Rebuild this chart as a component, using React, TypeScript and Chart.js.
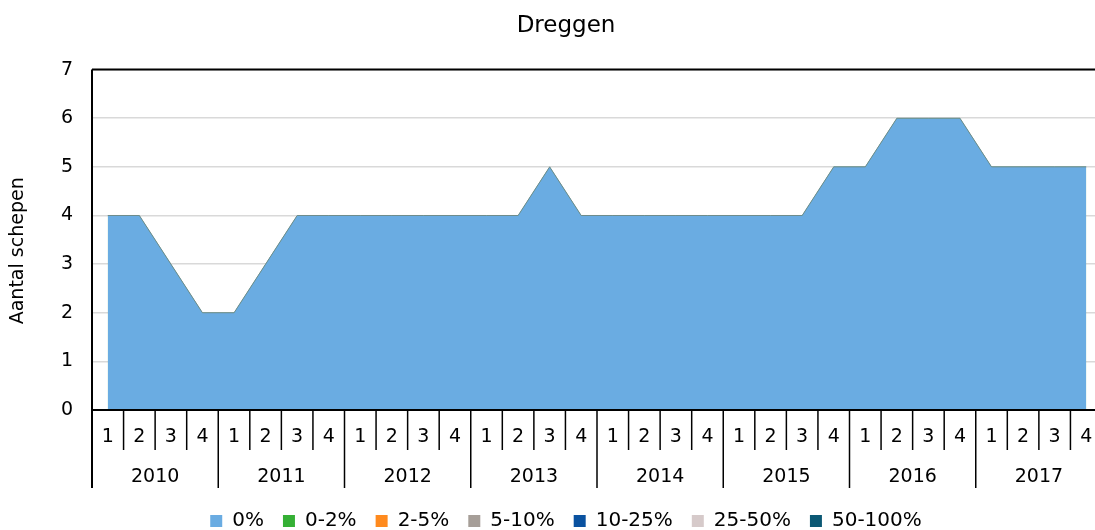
import React, { useEffect, useRef } from "react";
import { Chart, registerables } from "chart.js";

Chart.register(...registerables);

const quarterLabels = [
  "1", "2", "3", "4", "1", "2", "3", "4", "1", "2", "3", "4", "1", "2", "3", "4",
  "1", "2", "3", "4", "1", "2", "3", "4", "1", "2", "3", "4", "1", "2", "3", "4",
];
const yearLabels = ["2010", "2011", "2012", "2013", "2014", "2015", "2016", "2017"];
const yAxisTitle = "Aantal schepen";

const seriesNames = ["0%", "0-2%", "2-5%", "5-10%", "10-25%", "25-50%", "50-100%"];
const seriesColors = ["#6aace2", "#35b035", "#ff8a1e", "#a69e98", "#0a52a0", "#d6caca", "#0b5874"];

const values0 = [4, 4, 3, 2, 2, 3, 4, 4, 4, 4, 4, 4, 4, 4, 5, 4, 4, 4, 4, 4, 4, 4, 4, 5, 5, 6, 6, 6, 5, 5, 5, 5];
const valuesEmpty = [0, 0, 0, 0, 0, 0, 0, 0, 0, 0, 0, 0, 0, 0, 0, 0, 0, 0, 0, 0, 0, 0, 0, 0, 0, 0, 0, 0, 0, 0, 0, 0];
const seriesValues = [values0, valuesEmpty, valuesEmpty, valuesEmpty, valuesEmpty, valuesEmpty, valuesEmpty];

const FONT = "'DejaVu Sans', Verdana, sans-serif";

const excelAxes = {
  id: "excelAxes",
  afterDraw(chart: any) {
    const { ctx, chartArea: a } = chart;
    const x = chart.scales.x;
    const n = quarterLabels.length;
    const half = (x.getPixelForValue(1) - x.getPixelForValue(0)) / 2;
    const line = (x1: number, y1: number, x2: number, y2: number, w: number) => {
      ctx.beginPath();
      ctx.lineWidth = w;
      ctx.moveTo(x1, y1);
      ctx.lineTo(x2, y2);
      ctx.stroke();
    };
    ctx.save();
    ctx.strokeStyle = "#000";
    line(a.left, a.top, a.right, a.top, 2);
    line(a.left, a.bottom, a.right, a.bottom, 2);
    line(a.left, a.top, a.left, a.bottom + 78, 2);
    for (let k = 1; k <= n; k++) {
      const bx = x.getPixelForValue(k - 1) + half;
      const len = k % 4 === 0 ? 78 : 40;
      line(bx, a.bottom, bx, a.bottom + len, 1.5);
    }
    ctx.fillStyle = "#000";
    ctx.font = `19px ${FONT}`;
    ctx.textAlign = "center";
    ctx.textBaseline = "middle";
    yearLabels.forEach((yr, j) => {
      const cx = (x.getPixelForValue(j * 4) + x.getPixelForValue(j * 4 + 3)) / 2;
      ctx.fillText(yr, cx, a.bottom + 67);
    });
    // rotated y-axis title
    ctx.save();
    ctx.translate(18, (a.top + a.bottom) / 2 + 11);
    ctx.rotate(-Math.PI / 2);
    ctx.font = `19px ${FONT}`;
    ctx.fillText(yAxisTitle, 0, 0);
    ctx.restore();
    ctx.restore();
  },
};

export default function App() {
  const ref = useRef<HTMLCanvasElement | null>(null);
  useEffect(() => {
    document.documentElement.style.overflow = "hidden";
    document.body.style.overflow = "hidden";
    const canvas = ref.current;
    if (!canvas) return;
    const chart = new Chart(canvas, {
      type: "line",
      data: {
        labels: quarterLabels,
        datasets: seriesNames.map((name, i) => ({
          label: name,
          data: seriesValues[i],
          backgroundColor: seriesColors[i],
          borderColor: i === 0 ? "#6f8c8c" : seriesColors[i],
          borderWidth: i === 0 ? 1 : 0,
          fill: i === 0 ? "origin" : "-1",
          pointRadius: 0,
          tension: 0,
        })),
      },
      plugins: [excelAxes],
      options: {
        responsive: false,
        animation: false,
        devicePixelRatio: 1,
        layout: { padding: { left: 0, right: 0, top: 0, bottom: -11 } },
        plugins: {
          title: {
            display: true,
            text: "Dreggen",
            color: "#000",
            font: { family: FONT, size: 23, weight: "normal" },
            padding: { top: 12, bottom: 30 },
          },
          legend: {
            position: "bottom",
            labels: {
              color: "#000",
              font: { family: FONT, size: 20 },
              boxWidth: 12,
              boxHeight: 12,
              padding: 19,
              generateLabels: (c: any) =>
                Chart.defaults.plugins.legend.labels.generateLabels(c).map((item: any, i: number) => ({
                  ...item,
                  fillStyle: seriesColors[i],
                  strokeStyle: seriesColors[i],
                  lineWidth: 0,
                })),
            },
          },
          tooltip: { enabled: false },
        },
        scales: {
          x: {
            type: "category",
            offset: true,
            grid: { display: false, drawTicks: false },
            border: { display: false },
            ticks: {
              color: "#000",
              font: { family: FONT, size: 19 },
              padding: 16,
              maxRotation: 0,
              autoSkip: false,
            },
            afterFit: (s: any) => {
              s.height = 82;
            },
          },
          y: {
            min: 0,
            max: 7,
            position: "left",
            grid: { color: "#d9d9d9", lineWidth: 1.5, drawTicks: false },
            border: { display: false },
            ticks: {
              stepSize: 1,
              color: "#000",
              font: { family: FONT, size: 19 },
              padding: 19,
            },
            afterFit: (s: any) => {
              s.width = 92;
            },
          },
          yRight: {
            position: "right",
            display: true,
            grid: { display: false, drawTicks: false },
            border: { display: false },
            ticks: { display: false },
            afterFit: (s: any) => {
              s.width = 30;
            },
          },
        },
      },
    } as any);
    return () => chart.destroy();
  }, []);
  return (
    <div style={{ position: "absolute", left: 0, top: 0, width: 1132, height: 530 }}>
      <canvas ref={ref} width={1132} height={530} />
    </div>
  );
}
